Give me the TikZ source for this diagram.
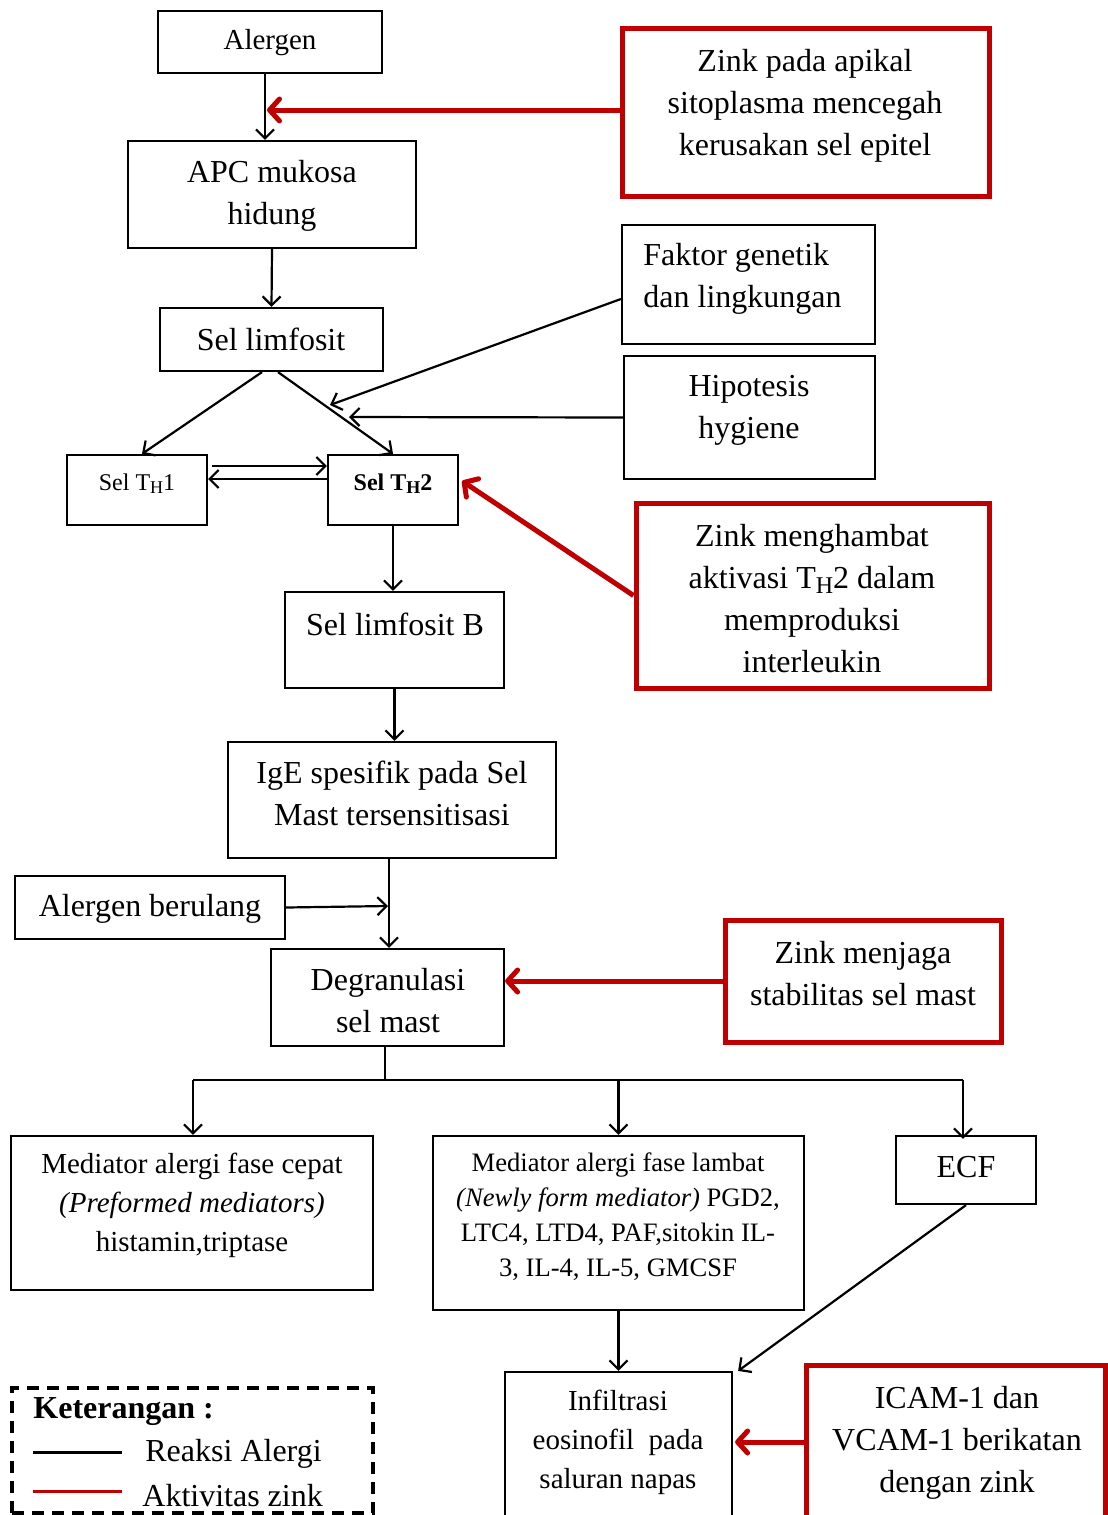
\documentclass[tikz,border=0pt]{standalone}
\usepackage{fontspec}
\setmainfont{Liberation Serif}
\usetikzlibrary{fit,arrows.meta}
\definecolor{zred}{RGB}{192,0,0}
\newcommand\tsub[1]{\raisebox{-0.3ex}{\scalebox{0.75}{#1}}}
\begin{document}
\begin{tikzpicture}[x=0.5pt,y=-0.5pt,
  box/.style={draw, line width=1.1pt, inner sep=0pt},
  rbox/.style={draw=zred, line width=2.5pt, inner sep=0pt},
  legbox/.style={draw, line width=1.6pt, dash pattern=on 6pt off 4pt, inner sep=0pt},
  txt/.style={inner sep=0pt, align=center, font=\fontsize{16}{21}\selectfont},
  txtm/.style={inner sep=0pt, align=center, font=\fontsize{14.5}{19.5}\selectfont},
  txts/.style={inner sep=0pt, align=center, font=\fontsize{13.3}{17.5}\selectfont},
  txtt/.style={inner sep=0pt, align=center, font=\fontsize{12}{14}\selectfont},
  ln/.style={line width=1.1pt},
  arr/.style={line width=1.1pt, -{Straight Barb[length=4.5pt,width=9pt]}},
  rarr/.style={draw=zred, line width=2.5pt, -{Straight Barb[length=5pt,width=11pt,round]}}
]
\path[use as bounding box, clip] (0,0) rectangle (1108,1515);
\fill[white] (0,0) rectangle (1108,1515);

% boxes
\node[box, fit={(158,11) (382,73)}] (alergen) {};
\node[box, fit={(128,141) (416,248)}] (apc) {};
\node[box, fit={(160,308) (383,371)}] (lim) {};
\node[box, fit={(67,455) (207,525)}] (th1) {};
\node[box, fit={(328,455) (458,525)}] (th2) {};
\node[box, fit={(285,592) (504,688)}] (limB) {};
\node[box, fit={(228,742) (556,858)}] (ige) {};
\node[box, fit={(15,876) (285,939)}] (ber) {};
\node[box, fit={(271,949) (504,1046)}] (deg) {};
\node[box, fit={(11,1136) (373,1290)}] (cep) {};
\node[box, fit={(433,1136) (804,1310)}] (lam) {};
\node[box, fit={(896,1136) (1036,1204)}] (ecf) {};
\node[box, fit={(505,1372) (732,1530)}] (inf) {};
\node[box, fit={(622,225) (875,344)}] (faktor) {};
\node[box, fit={(624,356) (875,479)}] (hip) {};
\node[rbox, fit={(622,28) (989,196)}] (zinkA) {};
\node[rbox, fit={(636,503) (989,688)}] (zinkB) {};
\node[rbox, fit={(725,920) (1001,1042)}] (zinkC) {};
\node[rbox, fit={(806,1365) (1105,1530)}] (icam) {};
\node[legbox, fit={(12,1388) (373,1513)}] (leg) {};

% texts
\node[txtm] (alergenT) at (270,43) {Alergen};
\node[txt] (apcT) at (272,196) {APC mukosa\\hidung};
\node[txt] (limT) at (271,339) {Sel limfosit};
\node[txtt] (th1T) at (137,484) {Sel T\tsub{H}1};
\node[txtt, font=\fontsize{12}{14}\selectfont\bfseries] (th2T) at (393,484) {Sel T\tsub{H}2};
\node[txt] (limBT) at (395,624) {Sel limfosit B};
\node[txt] (igeT) at (392,793) {IgE spesifik pada Sel\\Mast tersensitisasi};
\node[txt] (berT) at (150,909) {Alergen berulang};
\node[txt] (degT) at (388,1001) {Degranulasi\\sel mast};
\node[txtm] (cepT) at (192,1205) {Mediator alergi fase cepat\\\textit{(Preformed mediators)}\\histamin,triptase};
\node[txts] (lamT) at (618,1217) {Mediator alergi fase lambat\\\textit{(Newly form mediator)} PGD2,\\LTC4, LTD4, PAF,sitokin IL-\\3, IL-4, IL-5, GMCSF};
\node[txt] (ecfT) at (966,1167) {ECF};
\node[txtm] (infT) at (618,1442) {Infiltrasi\\eosinofil\ \ pada\\saluran napas};
\node[txt] (icamT) at (957,1443) {ICAM-1 dan\\VCAM-1 berikatan\\dengan zink};
\node[txt] (zinkAT) at (805,106) {Zink pada apikal\\sitoplasma mencegah\\kerusakan sel epitel};
\node[txt, align=left, anchor=west] (faktorT) at (643,279) {Faktor genetik\\dan lingkungan};
\node[txt] (hipT) at (749,410) {Hipotesis\\hygiene};
\node[txt] (zinkBT) at (812,599) {Zink menghambat\\aktivasi T\tsub{H}2 dalam\\memproduksi\\interleukin};
\node[txt] (zinkCT) at (863,974) {Zink menjaga\\stabilitas sel mast};

% legend
\node[txt, anchor=west, font=\fontsize{16}{21}\selectfont\bfseries] (ketT) at (33,1412) {Keterangan :};
\node[txt, anchor=west] (reaksiT) at (145,1454) {Reaksi Alergi};
\node[txt, anchor=west] (aktT) at (142,1496) {Aktivitas zink};
\draw[line width=1.5pt] (33,1452) -- (122,1452);
\draw[draw=zred, line width=1.5pt] (33,1491) -- (122,1491);

% connectors
\coordinate (za) at (267,110);
\coordinate (fg) at (330,405);
\coordinate (hy) at (349,417);
\coordinate (ab) at (388,906);
\coordinate (br) at (385,1080);
\coordinate (bl) at (193,1080);
\coordinate (brr) at (963,1080);

\draw[arr] ([xshift=-2.5pt]alergen.south) -- ([xshift=-3.5pt]apc.north);
\draw[rarr] ([yshift=1pt]zinkA.west) -- (za);
\draw[arr] (apc.south) -- (lim.north);
\draw[arr] ([xshift=-4.75pt]lim.south) -- ([xshift=2.5pt]th1.north);
\draw[arr] ([xshift=3.25pt]lim.south) -- (th2.north);
\draw[arr] ([yshift=-7.25pt]faktor.west) -- (fg);
\draw[arr] (hip.west) -- (hy);
\draw[arr] ([yshift=12pt,xshift=2pt]th1.east) -- ([yshift=12pt]th2.west);
\draw[arr] ([yshift=5.5pt]th2.west) -- ([yshift=5.5pt]th1.east);
\draw[rarr] (zinkB.west) -- ([yshift=4.5pt,xshift=1.5pt]th2.east);
\draw[arr] (th2.south) -- (th2.south |- limB.north);
\draw[arr] (limB.south) -- (limB.south |- ige.north);
\draw[arr] ([xshift=-1.5pt]ige.south) -- ([xshift=0.75pt]deg.north);
\draw[arr] (ber.east) -- (ab);
\draw[rarr] (zinkC.west) -- (zinkC.west -| deg.east);
\draw[ln] ([xshift=-1.25pt]deg.south) -- (br);
\draw[ln] (bl) -- (brr);
\draw[arr] (bl) -- (bl |- cep.north);
\draw[arr] (lam.north |- br) -- (lam.north);
\draw[arr] (brr) -- ([yshift=-2pt]brr |- ecf.north);
\draw[arr] (lam.south) -- (lam.south |- inf.north);
\draw[arr] (ecf.south) -- ([xshift=2.5pt]inf.north east);
\draw[rarr] ([yshift=2.75pt]icam.west) -- ([yshift=4.5pt,xshift=1pt]inf.east);
\end{tikzpicture}
\end{document}
